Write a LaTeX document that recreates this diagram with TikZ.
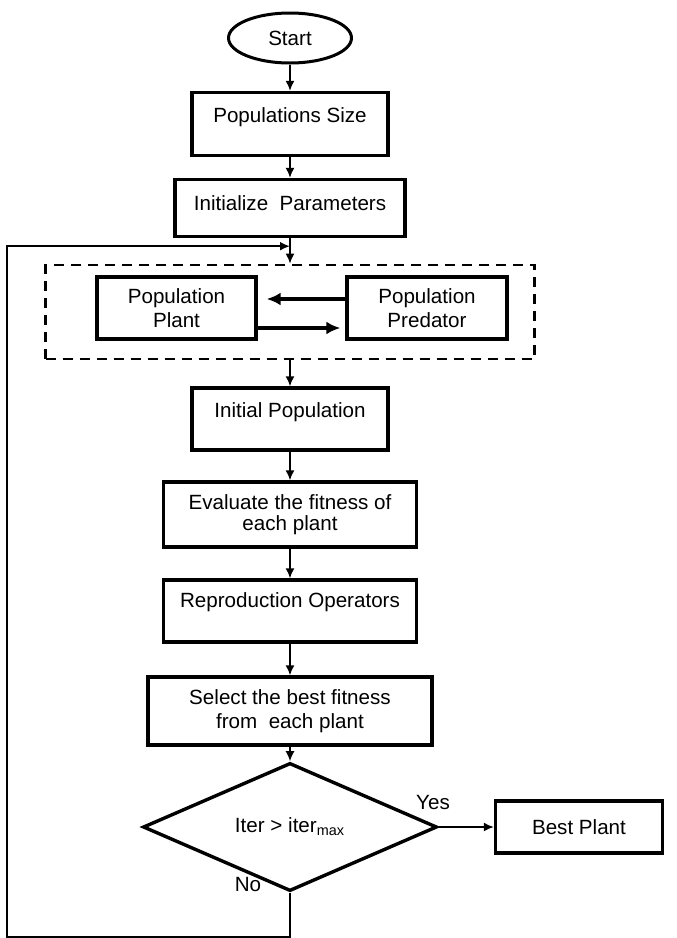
\documentclass[tikz,border=0pt]{standalone}
\usepackage{fontspec}
\setmainfont{Liberation Sans}
\usetikzlibrary{shapes.geometric,arrows.meta,positioning}

\begin{document}
\begin{tikzpicture}[x=0.5pt,y=-0.5pt,
	font=\fontsize{10.3}{12}\selectfont,
	stepbox/.style={draw,rectangle,line width=1.7pt,align=center,inner sep=0pt},
	groupbox/.style={draw,rectangle,line width=1.4pt,dash pattern=on 5pt off 3.5pt},
	flow/.style={-{Latex[length=5pt,width=4.5pt]},line width=0.8pt},
	swap/.style={-{Latex[length=7pt,width=6.5pt]},line width=1.8pt}]

	\useasboundingbox (0,0) rectangle (676,938);

	\node[draw,ellipse,line width=1.5pt,minimum width=61.5pt,minimum height=25pt,inner sep=0pt] (start) at (290,38) {Start};
	\node[stepbox,minimum width=98pt,minimum height=31.5pt,text depth=9pt] (popsize) at (290,124) {Populations Size};
	\node[stepbox,minimum width=115pt,minimum height=28.5pt,text depth=5pt] (initpar) at (290,208) {Initialize\ \ Parameters};

	% plant / predator block
	\node[groupbox,minimum width=244.5pt,minimum height=47pt] (group) at (290,312) {};
	\node[stepbox,minimum width=79.5pt,minimum height=31pt] (plant) at (176.5,308) {Population\\Plant};
	\node[stepbox,minimum width=80pt,minimum height=31pt] (predator) at (427,308) {Population\\Predator};

	\node[stepbox,minimum width=98pt,minimum height=31pt,text depth=9pt] (initpop) at (290,419) {Initial Population};
	\node[stepbox,minimum width=126.5pt,minimum height=32.5pt] (evaluate) at (290,514.5) {Evaluate the fitness of\\[-1.5pt]each plant};
	\node[stepbox,minimum width=126.5pt,minimum height=31pt,text depth=11pt] (repro) at (290,611) {Reproduction Operators};
	\node[stepbox,minimum width=142pt,minimum height=34pt] (select) at (290,711) {Select the best fitness\\from~ each plant};
	\node[draw,diamond,line width=1.7pt,minimum width=147pt,minimum height=53.5pt,inner sep=0pt] (decision) at (290,827) {Iter > iter\textsubscript{max}};
	\node[stepbox,minimum width=83.5pt,minimum height=26pt] (best) at (579,827) {Best Plant};

	\node (yes) at (433,803) {Yes};
	\node (no) at (248,885) {No};

	\draw[flow] (start) -- (popsize);
	\draw[flow] (popsize) -- (initpar);
	\draw[flow] (initpar) -- (group);
	\draw[swap,shorten >=4.5pt] ([yshift=4.5pt]predator.west) -- ([yshift=4.5pt]plant.east);
	\draw[swap,shorten >=2.5pt] ([yshift=-10pt]plant.east) -- ([yshift=-10pt]predator.west);
	\draw[flow] (group) -- (initpop);
	\draw[flow] (initpop) -- (evaluate);
	\draw[flow] (evaluate) -- (repro);
	\draw[flow] (repro) -- (select);
	\draw[flow] (select) -- (decision);
	\draw[flow] (decision) -- (best);

	% back to the top when No
	\coordinate (loopcorner) at (7,937);
	\coordinate[below=4pt of initpar.south] (merge);
	\draw[flow,line width=1pt] (decision.south) |- (loopcorner) |- (merge);

\end{tikzpicture}
\end{document}
